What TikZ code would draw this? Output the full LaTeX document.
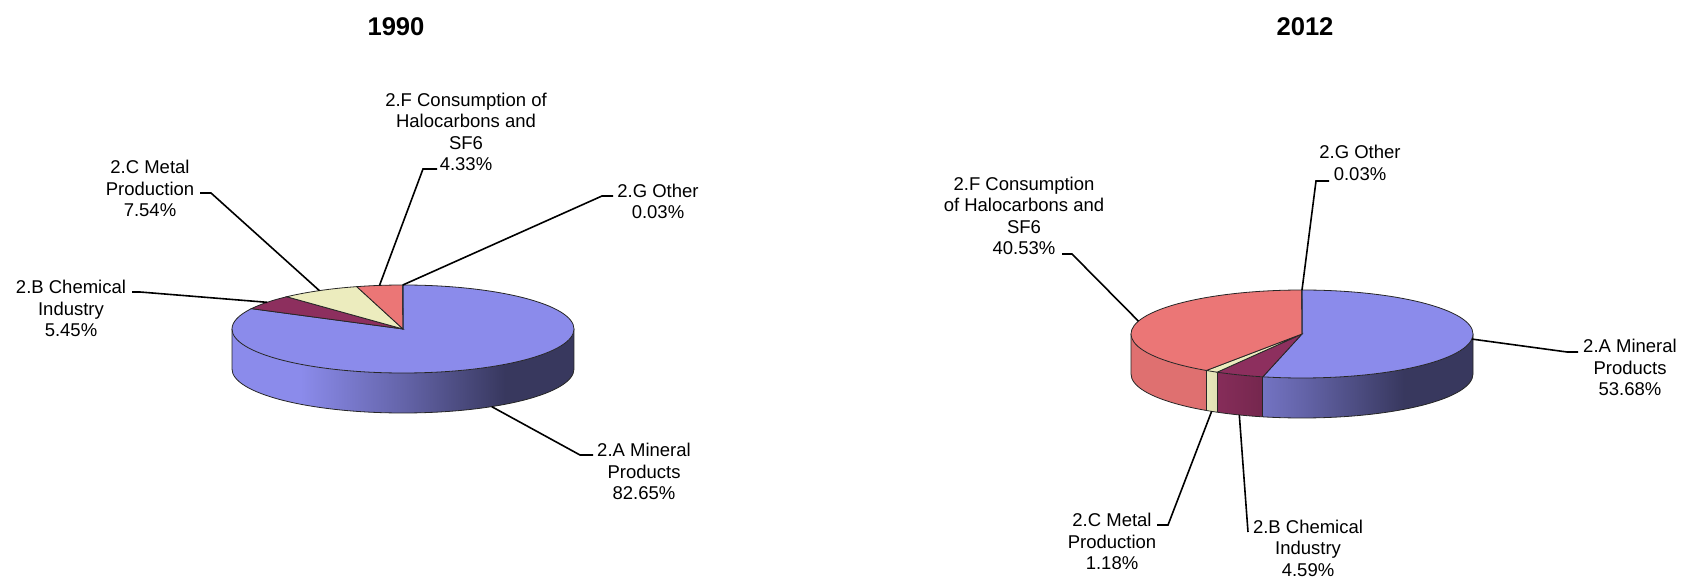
\documentclass[tikz,border=0pt]{standalone}
\usepackage{xcolor}
\usepackage{fontspec}
\setmainfont{Liberation Sans}
\usepackage{tikz}
\usetikzlibrary{positioning}
\tikzset{>=latex}

\definecolor{minblue}{RGB}{139,139,235}
\definecolor{chemplum}{RGB}{141,47,94}
\definecolor{metalcream}{RGB}{236,236,190}
\definecolor{halocoral}{RGB}{235,118,118}
\definecolor{otherblue}{RGB}{0,94,188}

% side shading: light on the left, dark on the right
\colorlet{sidelight}{white}
\colorlet{sidemid}{gray}
\colorlet{sidedark}{black}
\pgfdeclarehorizontalshading[sidelight,sidemid,sidedark]{pieside}{100bp}{%
  color(0bp)=(sidelight); color(35bp)=(sidelight); color(50bp)=(sidemid);
  color(65bp)=(sidedark); color(100bp)=(sidedark)}

\begin{document}
\begin{tikzpicture}[x=1pt,y=1pt]
    % Define node and line styles
    \tikzstyle{lbl} = [align=center, inner sep=0pt, font=\fontsize{18.5}{21.5}\selectfont]
    \tikzstyle{ttl} = [inner sep=0pt, font=\fontsize{25.6}{30}\selectfont\bfseries]
    \tikzstyle{leader} = [line width=1.6pt, black]
    \tikzstyle{rim} = [draw=black!85, line width=0.8pt]

    \useasboundingbox (0,0) rectangle (1689,581);

    % Pie centres
    \coordinate (c1) at (403,252);
    \coordinate (c2) at (1302,247);

    % Titles
    \node[ttl] (t1990) at (396,554) {1990};
    \node[ttl] (t2012) at (1305,554) {2012};

    % 1990 pie
    \begin{scope}[shift={(c1)}]
        % side of 2.A
        \colorlet{sidelight}{minblue}\colorlet{sidemid}{minblue!72!black}\colorlet{sidedark}{minblue!40!black}
        \begin{scope}
            \clip (180:171 and 44) arc[start angle=180, end angle=360, x radius=171, y radius=44]
                -- ++(0,-40) arc[start angle=360, end angle=180, x radius=171, y radius=44] -- cycle;
            \shade[shading=pieside] (-171,-90) rectangle (171,10);
        \end{scope}
        \draw[rim] (180:171 and 44) -- ++(0,-40) arc[start angle=180, end angle=360, x radius=171, y radius=44] -- ++(0,40);

        % top slices
        \filldraw[rim, fill=minblue] (0,0) -- (90:171 and 44) arc[start angle=90, end angle=-207.54, x radius=171, y radius=44] -- cycle;
        \filldraw[rim, fill=chemplum] (0,0) -- (152.46:171 and 44) arc[start angle=152.46, end angle=132.84, x radius=171, y radius=44] -- cycle;
        \filldraw[rim, fill=metalcream] (0,0) -- (132.84:171 and 44) arc[start angle=132.84, end angle=105.70, x radius=171, y radius=44] -- cycle;
        \filldraw[rim, fill=halocoral] (0,0) -- (105.70:171 and 44) arc[start angle=105.70, end angle=90.11, x radius=171, y radius=44] -- cycle;
        \filldraw[rim, fill=otherblue] (0,0) -- (90.11:171 and 44) arc[start angle=90.11, end angle=90, x radius=171, y radius=44] -- cycle;

        % leader ends on the pie
        \path (-58.77:171 and 44) ++(0,-40) coordinate (pA1);
        \coordinate (pB1) at (142.65:171 and 44);
        \coordinate (pC1) at (119.27:171 and 44);
        \coordinate (pF1) at (97.9:171 and 44);
        \coordinate (pG1) at (90.05:171 and 44);
    \end{scope}

    % 2012 pie
    \begin{scope}[shift={(c2)}]
        % sides
        \begin{scope}
            \colorlet{sidelight}{minblue}\colorlet{sidemid}{minblue!72!black}\colorlet{sidedark}{minblue!40!black}
            \clip (-103.25:171 and 44) arc[start angle=-103.25, end angle=0, x radius=171, y radius=44]
                -- ++(0,-40) arc[start angle=0, end angle=-103.25, x radius=171, y radius=44] -- cycle;
            \shade[shading=pieside] (-171,-90) rectangle (171,10);
        \end{scope}
        \begin{scope}
            \colorlet{sidelight}{chemplum}\colorlet{sidemid}{chemplum!72!black}\colorlet{sidedark}{chemplum!40!black}
            \clip (-119.77:171 and 44) arc[start angle=-119.77, end angle=-103.25, x radius=171, y radius=44]
                -- ++(0,-40) arc[start angle=-103.25, end angle=-119.77, x radius=171, y radius=44] -- cycle;
            \shade[shading=pieside] (-171,-90) rectangle (171,10);
        \end{scope}
        \begin{scope}
            \colorlet{sidelight}{metalcream}\colorlet{sidemid}{metalcream!72!black}\colorlet{sidedark}{metalcream!40!black}
            \clip (-124.02:171 and 44) arc[start angle=-124.02, end angle=-119.77, x radius=171, y radius=44]
                -- ++(0,-40) arc[start angle=-119.77, end angle=-124.02, x radius=171, y radius=44] -- cycle;
            \shade[shading=pieside] (-171,-90) rectangle (171,10);
        \end{scope}
        \begin{scope}
            \colorlet{sidelight}{halocoral!95!black}\colorlet{sidemid}{halocoral!72!black}\colorlet{sidedark}{halocoral!40!black}
            \clip (-180:171 and 44) arc[start angle=-180, end angle=-124.02, x radius=171, y radius=44]
                -- ++(0,-40) arc[start angle=-124.02, end angle=-180, x radius=171, y radius=44] -- cycle;
            \shade[shading=pieside] (-171,-90) rectangle (171,10);
        \end{scope}
        \draw[rim] (180:171 and 44) -- ++(0,-40) arc[start angle=180, end angle=360, x radius=171, y radius=44] -- ++(0,40);
        \draw[rim] (-103.25:171 and 44) -- ++(0,-40);
        \draw[rim] (-119.77:171 and 44) -- ++(0,-40);
        \draw[rim] (-124.02:171 and 44) -- ++(0,-40);

        % top slices
        \filldraw[rim, fill=minblue] (0,0) -- (90:171 and 44) arc[start angle=90, end angle=-103.25, x radius=171, y radius=44] -- cycle;
        \filldraw[rim, fill=chemplum] (0,0) -- (-103.25:171 and 44) arc[start angle=-103.25, end angle=-119.77, x radius=171, y radius=44] -- cycle;
        \filldraw[rim, fill=metalcream] (0,0) -- (-119.77:171 and 44) arc[start angle=-119.77, end angle=-124.02, x radius=171, y radius=44] -- cycle;
        \filldraw[rim, fill=halocoral] (0,0) -- (-124.02:171 and 44) arc[start angle=-124.02, end angle=-269.93, x radius=171, y radius=44] -- cycle;
        \filldraw[rim, fill=otherblue] (0,0) -- (90.07:171 and 44) arc[start angle=90.07, end angle=90, x radius=171, y radius=44] -- cycle;

        % leader ends on the pie
        \coordinate (pA2) at (-6.62:171 and 44);
        \path (-111.51:171 and 44) ++(0,-40) coordinate (pB2);
        \path (-121.90:171 and 44) ++(0,-40) coordinate (pC2);
        \coordinate (pF2) at (163.03:171 and 44);
        \coordinate (pG2) at (90:171 and 44);
    \end{scope}

    % 1990 labels
    \node[lbl] (labA1) at (644,109.5) {2.A Mineral\\Products\\82.65\%};
    \node[lbl] (labB1) at (71,272.5) {2.B Chemical\\Industry\\5.45\%};
    \node[lbl] (labC1) at (150,392.5) {2.C Metal\\Production\\7.54\%};
    \node[lbl] (labF1) at (466,449) {2.F Consumption of\\Halocarbons and\\SF6\\4.33\%};
    \node[lbl] (labG1) at (658,379.5) {2.G Other\\0.03\%};

    % 2012 labels
    \node[lbl] (labA2) at (1630,213.5) {2.A Mineral\\Products\\53.68\%};
    \node[lbl] (labB2) at (1308,33) {2.B Chemical\\Industry\\4.59\%};
    \node[lbl] (labC2) at (1112,39.5) {2.C Metal\\Production\\1.18\%};
    \node[lbl] (labF2) at (1024,365) {2.F Consumption\\of Halocarbons and\\SF6\\40.53\%};
    \node[lbl] (labG2) at (1360,418) {2.G Other\\0.03\%};

    % Leader elbows
    \coordinate (kA1) at (593,126);  \coordinate (jA1) at (580,126);
    \coordinate (kB1) at (132,289);  \coordinate (jB1) at (140,289);
    \coordinate (kC1) at (200,388);  \coordinate (jC1) at (211,388);
    \coordinate (kF1) at (437,412);  \coordinate (jF1) at (423,412);
    \coordinate (kG1) at (613,385);  \coordinate (jG1) at (602,385);
    \coordinate (kA2) at (1578,229); \coordinate (jA2) at (1567,229);
    \coordinate (kG2) at (1329,400); \coordinate (jG2) at (1316,400);
    \coordinate (kF2) at (1062,327); \coordinate (jF2) at (1072,327);
    \coordinate (kC2) at (1157,56);  \coordinate (jC2) at (1168,56);
    \coordinate (kB2) at (1248,49);

    % Leaders
    \draw[leader] (kA1) -- (jA1) -- (pA1);
    \draw[leader] (kB1) -- (jB1) -- (pB1);
    \draw[leader] (kC1) -- (jC1) -- (pC1);
    \draw[leader] (kF1) -- (jF1) -- (pF1);
    \draw[leader] (kG1) -- (jG1) -- (pG1);
    \draw[leader] (kA2) -- (jA2) -- (pA2);
    \draw[leader] (kG2) -- (jG2) -- (pG2);
    \draw[leader] (kF2) -- (jF2) -- (pF2);
    \draw[leader] (kC2) -- (jC2) -- (pC2);
    \draw[leader] (kB2) -- (pB2);

\end{tikzpicture}
\end{document}
